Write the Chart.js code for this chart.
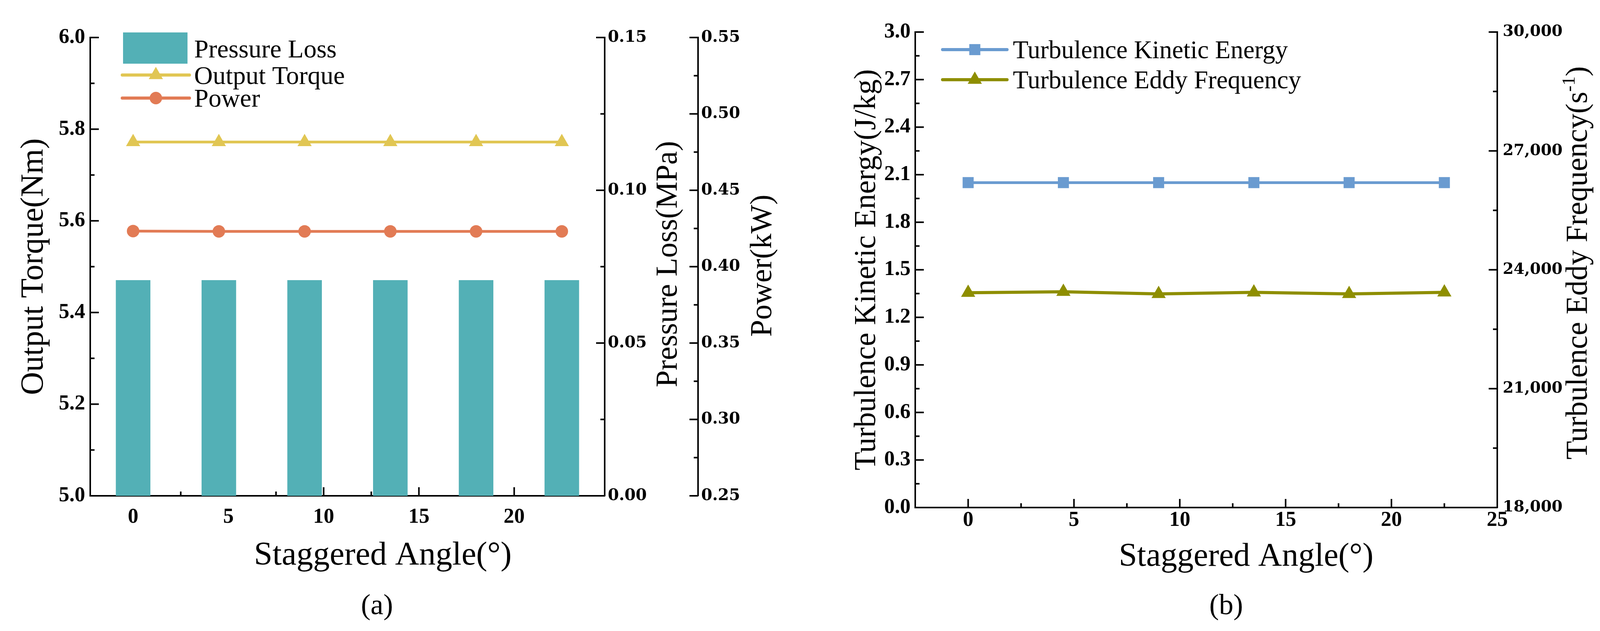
<!DOCTYPE html>
<html>
<head>
<meta charset="utf-8">
<script src="https://cdn.jsdelivr.net/npm/chart.js@4.4.1/dist/chart.umd.min.js"></script>
<style>
  body { margin: 0; background: #fff; }
  #wrap { position: relative; width: 4113px; height: 1615px; background: #fff; }
  canvas { position: absolute; top: 0; }
  #chartA { left: 0; }
  #chartB { left: 2060px; }
</style>
</head>
<body>
<div id="wrap">
  <canvas id="chartA" width="2060" height="1615"></canvas>
  <canvas id="chartB" width="2053" height="1615"></canvas>
</div>
<script>
// dados
const angles = [0, 4.5, 9, 13.5, 18, 22.5];
const pressureLoss = [0.0706, 0.0706, 0.0706, 0.0706, 0.0706, 0.0706];
const outputTorque = [5.772, 5.772, 5.772, 5.772, 5.772, 5.772];
const power = [0.4233, 0.4231, 0.4231, 0.4231, 0.4231, 0.4231];
const tke = [2.05, 2.05, 2.05, 2.05, 2.05, 2.05];
const eddyFreq = [23420, 23446, 23391, 23430, 23391, 23430];

// ticks
const angleTicksA = [0, 5, 10, 15, 20];
const angleTicksB = [0, 5, 10, 15, 20, 25];
const torqueTicks = [5.0, 5.2, 5.4, 5.6, 5.8, 6.0];
const pressureTicks = [0, 0.05, 0.10, 0.15];
const powerTicks = [0.25, 0.30, 0.35, 0.40, 0.45, 0.50, 0.55];
const tkeTicks = [0, 0.3, 0.6, 0.9, 1.2, 1.5, 1.8, 2.1, 2.4, 2.7, 3.0];
const freqTicks = [18000, 21000, 24000, 27000, 30000];

const teal = '#53B0B6';
const yellow = '#E1C653';
const orange = '#E27B55';
const blue = '#6A9BD0';
const olive = '#8E8E00';

const serif = 'Liberation Serif';
const wide = 'DejaVu Serif';

const pts = arr => angles.map((a, i) => ({ x: a, y: arr[i] }));

// ticks para dentro (maior + menor)
const innerTicks = {
  id: 'innerTicks',
  beforeDatasetsDraw(chart, args, opts) {
    const ctx = chart.ctx;
    ctx.save();
    ctx.strokeStyle = '#000';
    ctx.lineWidth = 4;
    opts.axes.forEach(ax => {
      const s = chart.scales[ax.id];
      const step = ax.major[1] - ax.major[0];
      const minors = [];
      ax.major.forEach(v => {
        [v - step / 2, v + step / 2].forEach(m => {
          if (m > s.min && m < s.max && !minors.some(q => Math.abs(q - m) < 1e-9)) minors.push(m);
        });
      });
      const mark = (v, len) => {
        const p = s.getPixelForValue(v);
        ctx.beginPath();
        if (s.isHorizontal()) {
          ctx.moveTo(p, s.top);
          ctx.lineTo(p, s.top - len);
        } else {
          const x0 = s.position === 'left' ? s.right : s.left;
          const dir = s.position === 'left' ? 1 : -1;
          ctx.moveTo(x0, p);
          ctx.lineTo(x0 + dir * len, p);
        }
        ctx.stroke();
      };
      ax.major.forEach(v => mark(v, 22));
      minors.forEach(v => mark(v, 11));
    });
    ctx.restore();
  }
};

function drawMarker(ctx, style, x, y, r, color) {
  ctx.fillStyle = color;
  ctx.beginPath();
  if (style === 'triangle') {
    ctx.moveTo(x, y - r);
    ctx.lineTo(x + r * Math.sin(2 * Math.PI / 3), y - r * Math.cos(2 * Math.PI / 3));
    ctx.lineTo(x - r * Math.sin(2 * Math.PI / 3), y - r * Math.cos(2 * Math.PI / 3));
    ctx.closePath();
  } else if (style === 'rect') {
    const h = r * Math.SQRT1_2;
    ctx.rect(x - h, y - h, 2 * h, 2 * h);
  } else {
    ctx.arc(x, y, r, 0, Math.PI * 2);
  }
  ctx.fill();
}

// legenda, titulos dos eixos da direita, titulo x e (a)/(b)
const textLayer = {
  id: 'textLayer',
  afterDraw(chart, args, opts) {
    const ctx = chart.ctx;
    ctx.save();
    ctx.fillStyle = '#000';
    ctx.textBaseline = 'alphabetic';
    opts.legend.forEach(item => {
      if (item.box) {
        ctx.fillStyle = item.color;
        ctx.fillRect(item.box[0], item.box[1], item.box[2], item.box[3]);
      } else {
        ctx.strokeStyle = item.color;
        ctx.lineWidth = 8;
        ctx.lineCap = 'round';
        ctx.beginPath();
        ctx.moveTo(item.line[0], item.line[2]);
        ctx.lineTo(item.line[1], item.line[2]);
        ctx.stroke();
        drawMarker(ctx, item.marker, (item.line[0] + item.line[1]) / 2, item.line[2], item.r, item.color);
      }
      ctx.fillStyle = '#000';
      ctx.font = opts.legendSize + 'px "' + serif + '"';
      ctx.textAlign = 'left';
      ctx.fillText(item.text, item.tx, item.ty);
    });
    // titulos verticais da direita (de baixo para cima)
    opts.vtitles.forEach(t => {
      ctx.save();
      ctx.translate(t.x, t.y);
      ctx.rotate(-Math.PI / 2);
      ctx.textBaseline = 'middle';
      ctx.font = t.size + 'px "' + serif + '"';
      if (t.sup) {
        const supFont = Math.round(t.size * 0.6) + 'px "' + serif + '"';
        const w1 = ctx.measureText(t.text).width;
        ctx.font = supFont;
        const w2 = ctx.measureText(t.sup).width;
        ctx.font = t.size + 'px "' + serif + '"';
        const w3 = ctx.measureText(t.tail).width;
        let x = -(w1 + w2 + w3) / 2;
        ctx.textAlign = 'left';
        ctx.fillText(t.text, x, 0);
        x += w1;
        ctx.font = supFont;
        ctx.fillText(t.sup, x, -t.size * 0.3);
        x += w2;
        ctx.font = t.size + 'px "' + serif + '"';
        ctx.fillText(t.tail, x, 0);
      } else {
        ctx.textAlign = 'center';
        ctx.fillText(t.text, 0, 0);
      }
      ctx.restore();
    });
    opts.htitles.forEach(t => {
      ctx.textAlign = 'center';
      ctx.textBaseline = 'middle';
      ctx.font = t.size + 'px "' + serif + '"';
      ctx.fillText(t.text, t.x, t.y);
    });
    ctx.restore();
  }
};

function fixedTicks(list) {
  return s => { s.ticks = list.map(v => ({ value: v })); };
}

function axisY(position, min, max, list, fmt, font, pad, width, title) {
  const sc = {
    type: 'linear',
    position: position,
    min: min,
    max: max,
    afterBuildTicks: fixedTicks(list),
    afterFit: s => { s.width = width; },
    grid: { display: false, drawTicks: false },
    border: { display: true, color: '#000', width: 4 },
    ticks: {
      color: '#000',
      padding: pad,
      font: font,
      callback: v => fmt(v)
    }
  };
  if (title) sc.title = title;
  return sc;
}

function axisX(min, max, list, height, pad) {
  return {
    type: 'linear',
    position: 'bottom',
    min: min,
    max: max,
    offset: false,
    z: 1,
    afterBuildTicks: fixedTicks(list),
    afterFit: s => { s.height = height; },
    grid: { display: false, drawTicks: false },
    border: { display: true, color: '#000', width: 4 },
    ticks: {
      color: '#000',
      padding: pad,
      maxRotation: 0,
      font: { family: serif, weight: 'bold', size: 54, lineHeight: 1 },
      callback: v => String(v)
    }
  };
}

const condBold = { family: serif, weight: 'bold', size: 54, lineHeight: 1 };
const wideBold = { family: wide, weight: 'bold', size: 41, lineHeight: 1 };

new Chart(document.getElementById('chartA'), {
  type: 'bar',
  data: {
    datasets: [
      {
        type: 'bar', label: 'Pressure Loss', data: pts(pressureLoss), yAxisID: 'yPress',
        backgroundColor: teal, barPercentage: 0.403, categoryPercentage: 1, order: 3
      },
      {
        type: 'line', label: 'Output Torque', data: pts(outputTorque), yAxisID: 'y',
        borderColor: yellow, backgroundColor: yellow, borderWidth: 7,
        pointStyle: 'triangle', pointRadius: 21, pointBorderWidth: 0, order: 1
      },
      {
        type: 'line', label: 'Power', data: pts(power), yAxisID: 'yPow',
        borderColor: orange, backgroundColor: orange, borderWidth: 7,
        pointStyle: 'circle', pointRadius: 16, pointBorderWidth: 0, order: 2
      }
    ]
  },
  options: {
    responsive: false,
    animation: false,
    devicePixelRatio: 1,
    layout: { padding: { top: 96, left: 0, right: 0, bottom: 0 } },
    scales: {
      x: axisX(-2.25, 24.75, angleTicksA, 346, 28),
      y: axisY('left', 5.0, 6.0, torqueTicks, v => v.toFixed(1), condBold, 13, 231, {
        display: true, text: 'Output Torque(Nm)', color: '#000',
        font: { family: serif, size: 82, lineHeight: 1 }, padding: { top: 46, bottom: 0 }
      }),
      yPress: axisY('right', 0, 0.15, pressureTicks, v => v.toFixed(2), wideBold, 8, 239),
      yPow: axisY('right', 0.25, 0.55, powerTicks, v => v.toFixed(2), wideBold, 8, 273)
    },
    plugins: {
      legend: { display: false },
      tooltip: { enabled: false },
      innerTicks: {
        axes: [
          { id: 'x', major: angleTicksA },
          { id: 'y', major: torqueTicks },
          { id: 'yPress', major: pressureTicks },
          { id: 'yPow', major: powerTicks }
        ]
      },
      textLayer: {
        legendSize: 66,
        legend: [
          { box: [315, 83, 165, 80], color: teal, text: 'Pressure Loss', tx: 497, ty: 147 },
          { line: [313, 485, 192], marker: 'triangle', r: 21, color: yellow, text: 'Output Torque', tx: 497, ty: 215 },
          { line: [313, 485, 251], marker: 'circle', r: 16, color: orange, text: 'Power', tx: 497, ty: 273 }
        ],
        vtitles: [
          { text: 'Pressure Loss(MPa)', x: 1712, y: 676, size: 78 },
          { text: 'Power(kW)', x: 1954, y: 680, size: 78 }
        ],
        htitles: [
          { text: 'Staggered Angle(°)', x: 980, y: 1423, size: 85 },
          { text: '(a)', x: 965, y: 1553, size: 74 }
        ]
      }
    }
  },
  plugins: [innerTicks, textLayer]
});

new Chart(document.getElementById('chartB'), {
  type: 'line',
  data: {
    datasets: [
      {
        label: 'Turbulence Kinetic Energy', data: pts(tke), yAxisID: 'y',
        borderColor: blue, backgroundColor: blue, borderWidth: 7,
        pointStyle: 'rect', pointRadius: 20, pointBorderWidth: 0
      },
      {
        label: 'Turbulence Eddy Frequency', data: pts(eddyFreq), yAxisID: 'yFreq',
        borderColor: olive, backgroundColor: olive, borderWidth: 8,
        pointStyle: 'triangle', pointRadius: 21, pointBorderWidth: 0
      }
    ]
  },
  options: {
    responsive: false,
    animation: false,
    devicePixelRatio: 1,
    layout: { padding: { top: 82, left: 0, right: 0, bottom: 0 } },
    scales: {
      x: axisX(-2.5, 25, angleTicksB, 316, 6),
      y: axisY('left', 0, 3.0, tkeTicks, v => v.toFixed(1), condBold, 12, 283, {
        display: true, text: 'Turbulence Kinetic Energy(J/kg)', color: '#000',
        font: { family: serif, size: 78, lineHeight: 1 }, padding: { top: 121, bottom: 0 }
      }),
      yFreq: axisY('right', 18000, 30000, freqTicks, v => v.toLocaleString('en-US'),
        { family: wide, weight: 'bold', size: 40, lineHeight: 1 }, 14, 280)
    },
    plugins: {
      legend: { display: false },
      tooltip: { enabled: false },
      innerTicks: {
        axes: [
          { id: 'x', major: angleTicksB },
          { id: 'y', major: tkeTicks },
          { id: 'yFreq', major: freqTicks }
        ]
      },
      textLayer: {
        legendSize: 65,
        legend: [
          { line: [353, 518, 127], marker: 'rect', r: 20, color: blue, text: 'Turbulence Kinetic Energy', tx: 533, ty: 149 },
          { line: [353, 518, 204], marker: 'triangle', r: 21, color: olive, text: 'Turbulence Eddy Frequency', tx: 533, ty: 226 }
        ],
        vtitles: [
          { text: 'Turbulence Eddy Frequency(s', sup: '-1', tail: ')', x: 1982, y: 673, size: 78 }
        ],
        htitles: [
          { text: 'Staggered Angle(°)', x: 1130, y: 1426, size: 84 },
          { text: '(b)', x: 1079, y: 1553, size: 74 }
        ]
      }
    }
  },
  plugins: [innerTicks, textLayer]
});
</script>
</body>
</html>
